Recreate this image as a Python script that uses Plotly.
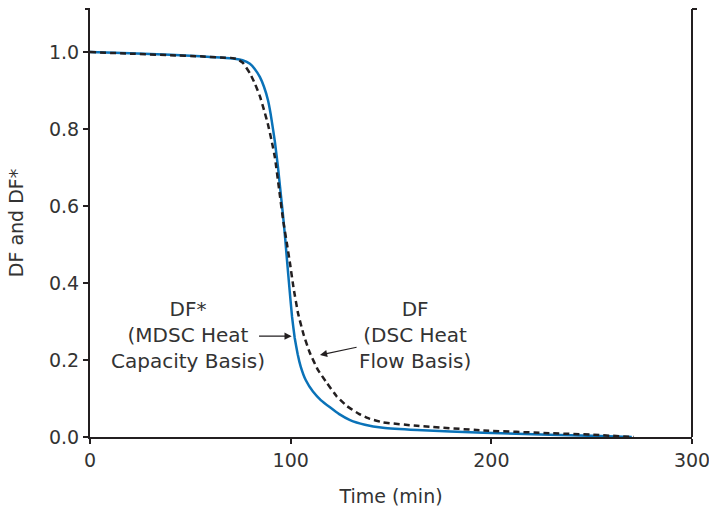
import plotly.graph_objects as go

# DF* (MDSC heat capacity basis)
time_df_star = [0, 20, 40, 55, 65, 72, 76, 79.7, 82, 84.7, 86.7, 88.7, 90, 91.2, 92.2,
                93.7, 95, 96.2, 97.2, 98.2, 99.5, 100.7, 102, 103.5, 105, 107.5, 111.1,
                115, 119.6, 124, 129.6, 137, 146, 163, 196, 229, 250, 270]
df_star = [1.0, 0.997, 0.993, 0.989, 0.986, 0.983, 0.979, 0.970, 0.957, 0.935, 0.91,
           0.875, 0.84, 0.80, 0.765, 0.70, 0.635, 0.575, 0.52, 0.458, 0.38, 0.312, 0.258,
           0.215, 0.183, 0.148, 0.118, 0.096, 0.077, 0.060, 0.044, 0.032, 0.024, 0.018,
           0.011, 0.006, 0.003, 0.0]

# DF (DSC heat flow basis)
time_df = [0, 20, 40, 55, 65, 70, 73.3, 76.2, 79.7, 82.2, 84.7, 86.7, 88.7, 90.5, 92.2,
           94.2, 96.2, 98.2, 99.7, 101.5, 103.7, 106.5, 109.6, 113.5, 118.1, 123,
           128.1, 134, 139.5, 146, 163, 196, 229, 250, 271]
df = [1.0, 0.996, 0.992, 0.989, 0.986, 0.985, 0.982, 0.972, 0.945, 0.918, 0.885, 0.85,
      0.812, 0.77, 0.725, 0.645, 0.565, 0.50, 0.45, 0.385, 0.321, 0.265, 0.218, 0.175,
      0.140, 0.105, 0.080, 0.060, 0.047, 0.038, 0.029, 0.017, 0.010, 0.006, 0.0]

x_ticks = [0, 100, 200, 300]
y_ticks = [0.0, 0.2, 0.4, 0.6, 0.8, 1.0]

FONT = "DejaVu Sans"
INK = "#231f20"
TEXT = "#333333"

fig = go.Figure()
fig.add_trace(go.Scatter(x=time_df_star, y=df_star, mode="lines",
                         line=dict(color="#0a72b8", width=2.5, shape="spline", smoothing=0.3),
                         showlegend=False))
fig.add_trace(go.Scatter(x=time_df, y=df, mode="lines",
                         line=dict(color=INK, width=2.5, dash="6px,4px", shape="spline", smoothing=0.3),
                         showlegend=False))

# Curve labels
fig.add_annotation(x=49, y=0.265, xref="x", yref="y", showarrow=False,
                   text="DF*<br>(MDSC Heat<br>Capacity Basis)", align="center",
                   font=dict(family=FONT, size=20, color=TEXT))
fig.add_annotation(x=162, y=0.265, xref="x", yref="y", showarrow=False,
                   text="DF<br>(DSC Heat<br>Flow Basis)", align="center",
                   font=dict(family=FONT, size=20, color=TEXT))

# Pointer arrows
fig.add_annotation(x=100.5, y=0.262, ax=83.5, ay=0.262, xref="x", yref="y",
                   axref="x", ayref="y", text="", showarrow=True,
                   arrowhead=2, arrowsize=1.2, arrowwidth=1.2, arrowcolor=INK)
fig.add_annotation(x=114.6, y=0.213, ax=133.6, ay=0.234, xref="x", yref="y",
                   axref="x", ayref="y", text="", showarrow=True,
                   arrowhead=2, arrowsize=1.2, arrowwidth=1.2, arrowcolor=INK)

# Right-hand frame line and small end ticks at the top
fig.add_shape(type="line", xref="paper", yref="paper", x0=1, x1=1, y0=0, y1=1,
              line=dict(color=INK, width=2))
fig.add_shape(type="line", xref="paper", yref="paper", x0=1, x1=1 + 5 / 602, y0=1, y1=1,
              line=dict(color=INK, width=2))
fig.add_shape(type="line", xref="paper", yref="paper", x0=-5 / 602, x1=0, y0=1, y1=1,
              line=dict(color=INK, width=2))

fig.update_layout(
    width=709, height=514,
    margin=dict(l=90, r=17, t=9, b=77),
    paper_bgcolor="white", plot_bgcolor="white",
    font=dict(family=FONT, size=19, color=TEXT),
    xaxis=dict(range=[0, 300], tickvals=x_ticks, showgrid=False, zeroline=False,
               showline=True, linecolor=INK, linewidth=2, ticklabeloverflow="allow",
               automargin=False,
               ticks="outside", ticklen=5, tickwidth=1.5, tickcolor=INK,
               title=dict(text="Time (min)", font=dict(family=FONT, size=19, color=TEXT), standoff=20)),
    yaxis=dict(range=[0, 1.112], tickvals=y_ticks, tickformat=".1f", showgrid=False,
               zeroline=False, showline=True, linecolor=INK, linewidth=2,
               automargin=False,
               ticks="outside", ticklen=5, tickwidth=1.5, tickcolor=INK,
               title=dict(text="DF and DF*", font=dict(family=FONT, size=19, color=TEXT), standoff=20)),
)

fig.write_html("out.html")
